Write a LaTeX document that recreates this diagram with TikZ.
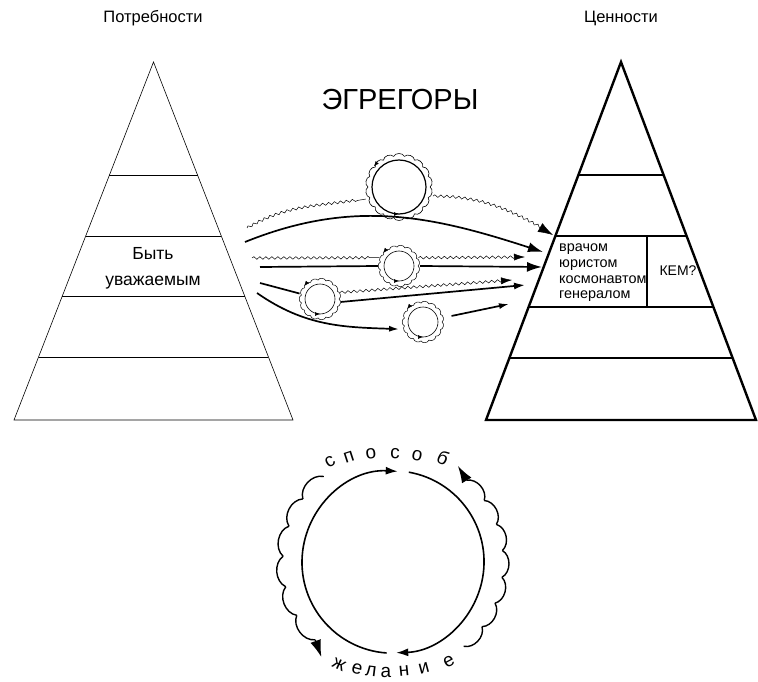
\documentclass[tikz,border=0pt]{standalone}
\usepackage{fontspec}
\setmainfont{Liberation Sans}
\usetikzlibrary{arrows.meta,calc,decorations.pathmorphing,decorations.markings}

\begin{document}
\begin{tikzpicture}[
  x=1pt,y=1pt,
  lpyr/.style={line width=0.6pt,line join=miter},
  rpyr/.style={line width=2.4pt,line join=miter},
  label/.style={font=\fontsize{16.5}{19}\selectfont},
  egr/.style={circle,inner sep=0pt,draw=none},
  flow/.style={line width=1.7pt},
  wave/.style={line width=0.5pt,decorate,decoration={snake,amplitude=1.3pt,segment length=6pt,post length=7pt}},
  bighead/.style={-{Latex[length=15pt,width=10pt]}},
  midhead/.style={-{Latex[length=11pt,width=7pt]}},
  smallhead/.style={-{Latex[length=10pt,width=6pt]}},
  ring/.style={line width=#1},
  scallop/.style={line width=0.5pt,bend right=70},
  bigscallop/.style={line width=1.4pt,bend right=60},
  turnmark/.style={postaction={decorate,decoration={markings,mark=at position #1 with {\arrow{Latex[length=5pt,width=4pt]}}}}},
  arcletter/.style={font=\fontsize{19}{21}\selectfont,inner sep=0pt}
]
\useasboundingbox (0,0) rectangle (758,-682);

% titles
\node[label] (needs) at (153,-18) {Потребности};
\node[label] (values) at (621,-18) {Ценности};
\node[font=\fontsize{29}{32}\selectfont] (egregors) at (400,-100) {ЭГРЕГОРЫ};

% left pyramid
\coordinate (la) at (153.5,-62);
\coordinate (lbl) at (14,-420);
\coordinate (lbr) at (293,-420);
\draw[lpyr] (la) -- (lbl) -- (lbr) -- cycle;
\foreach \t in {0.316,0.486,0.654,0.824}
  \draw[lpyr] ($(la)!\t!(lbl)$) -- ($(la)!\t!(lbr)$);
\node[font=\fontsize{17.5}{26}\selectfont,align=center] (respect) at (153,-268) {Быть\\уважаемым};

% right pyramid
\coordinate (ra) at (621,-62);
\coordinate (rbl) at (486,-420);
\coordinate (rbr) at (756,-420);
\draw[rpyr] (ra) -- (rbl) -- (rbr) -- cycle;
\foreach \t in {0.316,0.486,0.684,0.827}
  \draw[rpyr] ($(ra)!\t!(rbl)$) -- ($(ra)!\t!(rbr)$);
\draw[rpyr] (647,-236) -- (647,-307);
\node[font=\fontsize{14.4}{15.7}\selectfont,align=left,anchor=west,inner sep=0pt] (jobs) at (559,-273)
  {врачом\\юристом\\космонавтом\\генералом};
\node[font=\fontsize{14}{16}\selectfont] (kem) at (678,-271) {КЕМ?};

% egregors
\node[egr,minimum size=70pt] (e1) at (399,-187) {};
\draw[ring=1.2pt,turnmark=0.75] (e1.center) circle (27);
\foreach \a in {0,20,...,340}
  \draw[scallop,line width=0.6pt] ([shift={(\a:31)}]e1.center) to ([shift={({\a+20}:31)}]e1.center);
\path[turnmark=0.39] (e1.center) circle (32.5);
\foreach \n/\x/\y in {e2/399/266,e3/320/299,e4/423/322}{
  \node[egr,minimum size=42pt] (\n) at (\x,-\y) {};
  \draw[ring=0.6pt,turnmark=0.75] (\n.center) circle (15);
  \foreach \a in {0,24,...,336}
    \draw[scallop] ([shift={(\a:19)}]\n.center) to ([shift={({\a+24}:19)}]\n.center);
  \path[turnmark=0.39] (\n.center) circle (20.5);
}

% streams
\coordinate (w1s) at (247,-228);
\coordinate (w1e) at (553,-235);
\draw[wave] (w1s) to[out=30,in=190] (e1.200);
\draw[wave,bighead] (e1.-15) to[out=0,in=150] (w1e);
\coordinate (f1s) at (245,-242);
\coordinate (f1e) at (543,-252);
\draw[flow,bighead] (f1s) to[out=22,in=162] (f1e);

\coordinate (w2s) at (252,-258);
\coordinate (w2e) at (525,-257);
\draw[wave] (w2s) -- (e2.157);
\draw[wave,midhead] (e2.23) -- (w2e);
\coordinate (f2s) at (260,-267);
\coordinate (f2e) at (542,-267);
\draw[flow] (f2s) -- (e2.west);
\draw[flow,bighead] (e2.east) -- (f2e);

\coordinate (f3s) at (260,-283);
\coordinate (f3e) at (525,-285);
\coordinate (w3e) at (512,-280);
\draw[flow] (f3s) -- (e3.165);
\draw[flow,midhead] (e3.-8) -- (f3e);
\draw[wave,midhead] (e3.18) -- (w3e);

\coordinate (f4s) at (257,-293);
\coordinate (f4e) at (509,-304);
\draw[flow,smallhead,shorten >=4pt] (f4s) to[out=-35,in=178] (e4.200);
\draw[flow,smallhead,shorten <=8pt] (e4.12) -- (f4e);

% cycle
\node[egr,minimum size=182pt] (cyc) at (393,-562) {};
\draw[ring=1.6pt,-{Latex[length=12pt,width=8pt]}] (cyc.266) arc[start angle=266,end angle=87,radius=91];
\draw[ring=1.6pt,-{Latex[length=12pt,width=8pt]}] (cyc.80) arc[start angle=80,end angle=-88,radius=91];
\foreach \a in {129,145,...,209}
  \draw[bigscallop] ([shift={(\a:110)}]cyc.center) to ([shift={({\a+16}:110)}]cyc.center);
\draw[line width=1.4pt,-{Latex[length=17pt,width=11pt]}] ([shift={(225:110)}]cyc.center) -- ([shift={(233:119)}]cyc.center);
\foreach \a in {-50,-36,...,34}
  \draw[bigscallop] ([shift={(\a:110)}]cyc.center) to ([shift={({\a+14}:110)}]cyc.center);
\draw[line width=1.4pt,-{Latex[length=17pt,width=11pt]}] ([shift={(48:110)}]cyc.center) -- ([shift={(56:116)}]cyc.center);

\foreach \l/\x/\y/\r [count=\i] in {с/330/462/30,п/349/457/18,о/371/454/8,с/395/454/-2,о/417/456/-12,б/443/458/-26}
  \node[arcletter,rotate=\r] (sp\i) at (\x,-\y) {\l};
\foreach \l/\x/\y/\r [count=\i] in {ж/339/665/-25,е/357/669/-15,л/371/671/-7,а/386/672/0,н/404/671/6,и/424/668/15,е/449/662/28}
  \node[arcletter,rotate=\r] (zh\i) at (\x,-\y) {\l};
\end{tikzpicture}
\end{document}
